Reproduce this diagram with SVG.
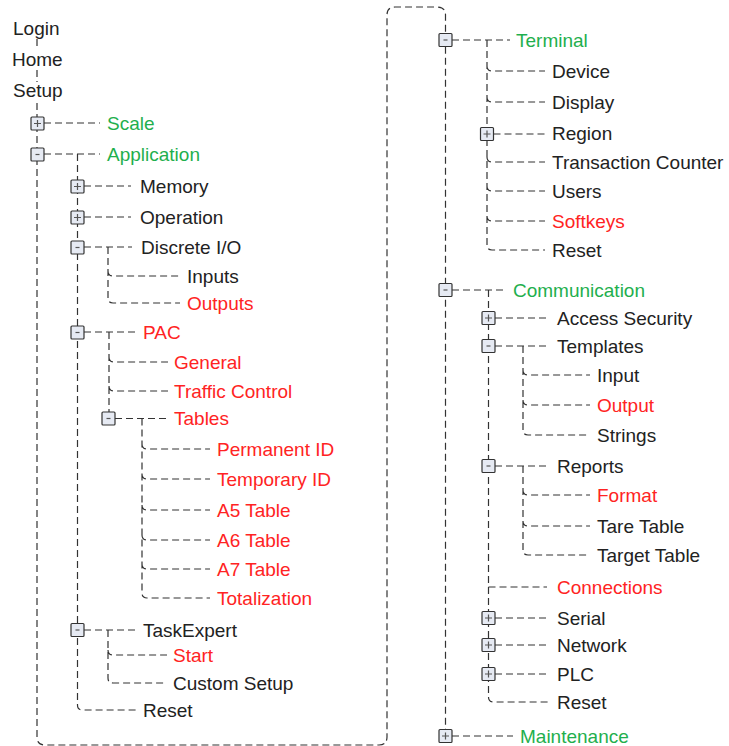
<svg xmlns="http://www.w3.org/2000/svg" xmlns:xlink="http://www.w3.org/1999/xlink" width="729" height="746" viewBox="0 0 729 746">
<style>
text{font-family:"Liberation Sans",Arial,sans-serif;font-size:19px;fill:#222}
.g{fill:#1faf4e}
.r{fill:#ff2323}
.c{fill:none;stroke:#333;stroke-width:1.2;stroke-dasharray:7 4}
.bx{fill:#e6eaf3;stroke:#333;stroke-width:1.2}
.sg{fill:none;stroke:#555;stroke-width:1.2}
</style>
<defs>
<g id="bp"><rect class="bx" x="-6.5" y="-6.5" width="13" height="13" rx="1"/><path class="sg" d="M-3.5 0H3.5M0 -3.5V3.5"/></g>
<g id="bm"><rect class="bx" x="-6.5" y="-6.5" width="13" height="13" rx="1"/><path class="sg" d="M-2 0H2"/></g>
</defs>
<rect width="729" height="746" fill="#fff"/>
<g id="connectors">
<path class="c" d="M37 39V50M37 70V82"/>
<path class="c" d="M37 103V737Q37 745 45 745H379Q387 745 387 737V15Q387 7 395 7H437Q445.5 7 445.5 15V730"/>
<path class="c" d="M44 123H100M44 154H100"/>
<path class="c" d="M77.5 154V705Q77.5 710 82.5 710H137"/>
<path class="c" d="M84 186H131M84 217H131M84 247H132M84 332H137M84 630H137"/>
<path class="c" d="M108 247V298Q108 303 113 303H180M108 271Q108 276 113 276H180"/>
<path class="c" d="M109 332V412M109 357Q109 362 114 362H168M109 386Q109 391 114 391H168M115 418.5H167"/>
<path class="c" d="M142 418.5V593Q142 598 147 598H210M142 444Q142 449 147 449H210M142 474Q142 479 147 479H210M142 505Q142 510 147 510H210M142 535Q142 540 147 540H210M142 564Q142 569 147 569H210"/>
<path class="c" d="M108 630V678Q108 683 113 683H167M108 650Q108 655 113 655H167"/>
<path class="c" d="M452 40H510M452 290H507M452 736H513"/>
<path class="c" d="M487 40V245Q487 250 492 250H545M487 66Q487 71 492 71H545M487 97Q487 102 492 102H545M493.5 134H545M487 157Q487 162 492 162H545M487 186Q487 191 492 191H545M487 216Q487 221 492 221H545"/>
<path class="c" d="M488.5 290V697Q488.5 702 493.5 702H550M495 318H550M495 346H550M495 466H550M488.5 587H547M495 618H550M495 645H550M495 674H550"/>
<path class="c" d="M523 346V430Q523 435 528 435H590M523 370Q523 375 528 375H590M523 400Q523 405 528 405H590"/>
<path class="c" d="M523 466V550Q523 555 528 555H590M523 490Q523 495 528 495H590M523 521Q523 526 528 526H590"/>
</g>
<g id="login"><text x="13" y="35">Login</text></g>
<g id="home"><text x="12" y="66">Home</text></g>
<g id="setup"><text x="13" y="97">Setup</text></g>
<g id="scale"><use href="#bp" x="37.5" y="123.5"/><text class="g" x="107" y="130">Scale</text></g>
<g id="application"><use href="#bm" x="37.5" y="154.5"/><text class="g" x="107" y="161">Application</text></g>
<g id="memory"><use href="#bp" x="77.5" y="186.5"/><text x="140" y="193">Memory</text></g>
<g id="operation"><use href="#bp" x="77.5" y="217.5"/><text x="140" y="224">Operation</text></g>
<g id="discrete-io"><use href="#bm" x="77.5" y="247.5"/><text x="141" y="254">Discrete I/O</text></g>
<g id="inputs"><text x="187" y="283">Inputs</text></g>
<g id="outputs"><text class="r" x="187" y="310">Outputs</text></g>
<g id="pac"><use href="#bm" x="77.5" y="332.5"/><text class="r" x="143" y="339">PAC</text></g>
<g id="general"><text class="r" x="174" y="369">General</text></g>
<g id="traffic-control"><text class="r" x="174" y="398">Traffic Control</text></g>
<g id="tables"><use href="#bm" x="108.5" y="418.5"/><text class="r" x="174" y="425">Tables</text></g>
<g id="permanent-id"><text class="r" x="217" y="456">Permanent ID</text></g>
<g id="temporary-id"><text class="r" x="217" y="486">Temporary ID</text></g>
<g id="a5-table"><text class="r" x="217" y="517">A5 Table</text></g>
<g id="a6-table"><text class="r" x="217" y="547">A6 Table</text></g>
<g id="a7-table"><text class="r" x="217" y="576">A7 Table</text></g>
<g id="totalization"><text class="r" x="217" y="605">Totalization</text></g>
<g id="taskexpert"><use href="#bm" x="77.5" y="630"/><text x="143" y="637">TaskExpert</text></g>
<g id="start"><text class="r" x="173" y="662">Start</text></g>
<g id="custom-setup"><text x="173" y="690">Custom Setup</text></g>
<g id="app-reset"><text x="143" y="717">Reset</text></g>
<g id="terminal"><use href="#bm" x="445.5" y="40"/><text class="g" x="516" y="47">Terminal</text></g>
<g id="device"><text x="552" y="78">Device</text></g>
<g id="display"><text x="552" y="109">Display</text></g>
<g id="region"><use href="#bp" x="487" y="134"/><text x="552" y="140">Region</text></g>
<g id="transaction-counter"><text x="552" y="169">Transaction Counter</text></g>
<g id="users"><text x="552" y="198">Users</text></g>
<g id="softkeys"><text class="r" x="552" y="228">Softkeys</text></g>
<g id="terminal-reset"><text x="552" y="257">Reset</text></g>
<g id="communication"><use href="#bm" x="445.5" y="290"/><text class="g" x="513" y="297">Communication</text></g>
<g id="access-security"><use href="#bp" x="488.5" y="318"/><text x="557" y="325">Access Security</text></g>
<g id="templates"><use href="#bm" x="488.5" y="346"/><text x="557" y="353">Templates</text></g>
<g id="input"><text x="597" y="382">Input</text></g>
<g id="output"><text class="r" x="597" y="412">Output</text></g>
<g id="strings"><text x="597" y="442">Strings</text></g>
<g id="reports"><use href="#bm" x="488.5" y="466"/><text x="557" y="473">Reports</text></g>
<g id="format"><text class="r" x="597" y="502">Format</text></g>
<g id="tare-table"><text x="597" y="533">Tare Table</text></g>
<g id="target-table"><text x="597" y="562">Target Table</text></g>
<g id="connections"><text class="r" x="557" y="594">Connections</text></g>
<g id="serial"><use href="#bp" x="488.5" y="618"/><text x="557" y="625">Serial</text></g>
<g id="network"><use href="#bp" x="488.5" y="645"/><text x="557" y="652">Network</text></g>
<g id="plc"><use href="#bp" x="488.5" y="674"/><text x="557" y="681">PLC</text></g>
<g id="comm-reset"><text x="557" y="709">Reset</text></g>
<g id="maintenance"><use href="#bp" x="445.5" y="736"/><text class="g" x="520" y="743">Maintenance</text></g>
</svg>
